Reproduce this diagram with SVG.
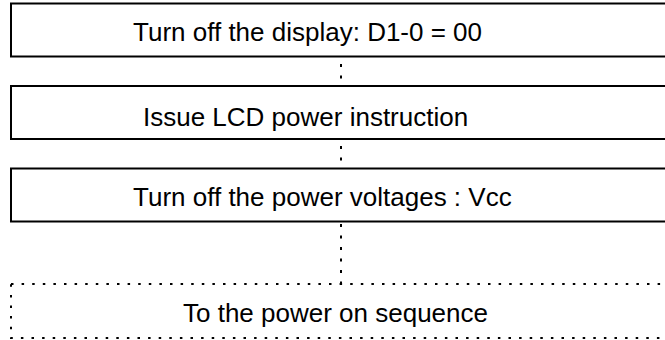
<svg xmlns="http://www.w3.org/2000/svg" width="665" height="340" viewBox="0 0 665 340">
<style>
.box{fill:#fff;stroke:#000;stroke-width:2}
.dbox{fill:#fff;stroke:#000;stroke-width:2;stroke-dasharray:2.5 8.1}
.conn{stroke:#000;stroke-width:2;stroke-dasharray:3 8.5;fill:none}
.t{font-family:"Liberation Sans",Arial,sans-serif;font-size:26px;fill:#000}
</style>
<rect width="665" height="340" fill="#fff"/>
<g id="connectors">
<line class="conn" x1="341" y1="64" x2="341" y2="82"/>
<line class="conn" x1="341" y1="146" x2="341" y2="164"/>
<line class="conn" x1="341" y1="224" x2="341" y2="284"/>
</g>
<g id="node1">
<rect class="box" x="11" y="3.5" width="700" height="53"/>
<text class="t" x="133" y="41">Turn off the display: D1-0 = 00</text>
</g>
<g id="node2">
<rect class="box" x="11" y="86" width="700" height="53"/>
<text class="t" x="143" y="126">Issue LCD power instruction</text>
</g>
<g id="node3">
<rect class="box" x="11" y="168.5" width="700" height="53"/>
<text class="t" x="133" y="206">Turn off the power voltages : Vcc</text>
</g>
<g id="node4">
<rect class="dbox" x="11" y="284" width="700" height="54"/>
<text class="t" x="183" y="322">To the power on sequence</text>
</g>
</svg>
